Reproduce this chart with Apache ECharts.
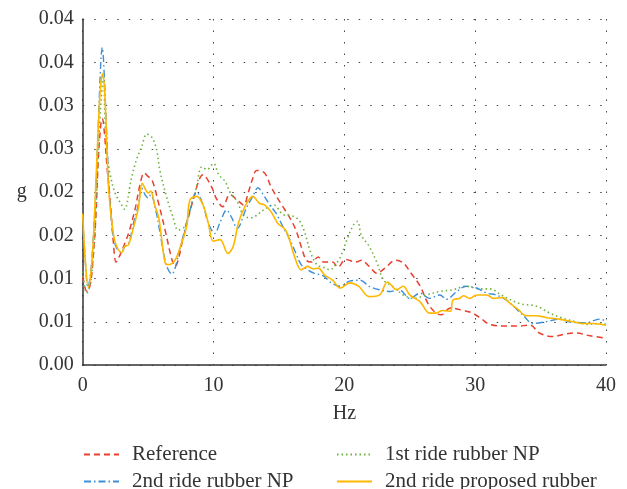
<!DOCTYPE html>
<html>
<head>
<meta charset="utf-8">
<script src="https://cdn.jsdelivr.net/npm/echarts@6/dist/echarts.min.js"></script>
<style>
html,body{margin:0;padding:0;background:#fff;}
#chart{width:627px;height:489px;}
</style>
</head>
<body>
<div id="chart"></div>
<script>
// ---- data ----
const seriesNames = ['Reference', '1st ride rubber NP', '2nd ride rubber NP', '2nd ride proposed rubber'];
const yTickLabels = ['0.00','0.01','0.01','0.02','0.02','0.03','0.03','0.04','0.04'];

const refHz = [0,0.2,0.35,0.6,0.8,1.0,1.2,1.4,1.5,1.65,1.85,2.1,2.35,2.55,2.85,3.2,3.5,4.0,4.4,4.7,5.0,5.3,5.8,6.3,6.8,7.05,7.7,8.45,9.2,9.85,10.2,10.7,11.25,11.8,12.3,12.65,13.0,13.3,13.9,14.4,14.8,15.3,15.8,16.3,16.7,17.1,17.5,18.0,18.4,19.1,19.5,20.1,20.9,21.3,21.9,22.5,23.1,23.9,24.5,25.1,25.8,26.4,27.0,27.4,28.1,29.1,29.8,30.5,31.1,32.1,33.2,34.2,34.9,35.9,37.0,37.7,38.7,40];
const refG  = [0.0102,0.0088,0.0085,0.0095,0.0125,0.017,0.024,0.028,0.0285,0.027,0.023,0.019,0.0141,0.0119,0.0127,0.014,0.0152,0.018,0.021,0.0222,0.0218,0.0214,0.0187,0.0156,0.0123,0.0114,0.0148,0.0191,0.022,0.0206,0.0193,0.0183,0.0197,0.0191,0.0185,0.0199,0.0216,0.0225,0.0222,0.0206,0.0195,0.0183,0.0171,0.0156,0.0137,0.0121,0.0119,0.0125,0.0119,0.0119,0.0113,0.0122,0.0119,0.0121,0.0114,0.0106,0.0112,0.0121,0.0118,0.0106,0.0091,0.0071,0.006,0.0058,0.0066,0.0063,0.006,0.0053,0.0047,0.0045,0.0045,0.0046,0.0037,0.0033,0.0036,0.0037,0.0034,0.0031];

const r1Hz = [0,0.3,0.6,0.9,1.1,1.3,1.5,1.6,1.7,1.83,2.08,2.47,2.98,3.2,3.7,4.1,4.5,4.9,5.3,5.65,5.9,6.4,6.9,7.3,7.8,8.2,8.7,9.1,9.5,10.0,10.4,10.9,11.25,11.8,12.3,12.8,13.2,13.8,14.6,15.3,16.1,16.6,17.0,17.4,17.9,18.4,18.9,19.3,19.7,20.2,20.7,21.0,21.3,21.9,22.5,23.0,23.7,24.5,25.3,26.3,27.3,28.3,29.3,30.4,31.1,32.1,33.4,34.7,35.7,36.7,37.7,38.6,39.5,40];
const r1G  = [0.0108,0.0083,0.0095,0.0145,0.021,0.028,0.0325,0.0335,0.0285,0.0249,0.0222,0.0199,0.0185,0.018,0.0214,0.0237,0.0252,0.0267,0.0263,0.0249,0.0225,0.0195,0.0171,0.0156,0.016,0.0179,0.0206,0.0229,0.0226,0.0233,0.022,0.0212,0.02,0.0189,0.0173,0.017,0.0172,0.0179,0.0185,0.0174,0.0172,0.0166,0.0152,0.0131,0.0116,0.0113,0.011,0.0116,0.0125,0.0145,0.0162,0.0166,0.015,0.0137,0.0118,0.0098,0.0091,0.0081,0.0077,0.0081,0.0085,0.0087,0.0091,0.0088,0.0088,0.008,0.0071,0.0068,0.006,0.0054,0.005,0.0047,0.0048,0.0047];

const r2Hz = [0,0.2,0.4,0.6,0.8,1.0,1.2,1.4,1.5,1.6,1.8,2.0,2.3,2.6,3.0,3.2,3.5,3.9,4.25,4.5,4.8,5.0,5.2,5.6,6.0,6.4,6.8,7.4,8.2,8.7,9.2,9.6,10.1,10.5,11.0,11.4,11.8,12.5,13.0,13.4,13.8,14.3,14.8,15.3,15.8,16.3,16.7,17.2,17.7,18.4,19.0,19.7,20.4,21.2,21.9,22.7,23.5,24.2,25.0,25.8,26.5,27.3,27.8,28.6,29.3,30.1,30.9,31.6,32.4,33.2,33.7,34.4,35.4,36.4,37.5,38.5,39.5,40];
const r2G  = [0.0172,0.012,0.009,0.0105,0.0145,0.02,0.028,0.0355,0.0367,0.035,0.028,0.021,0.0152,0.0135,0.013,0.0137,0.014,0.0165,0.0185,0.0205,0.0196,0.0193,0.0197,0.0178,0.0145,0.0115,0.0105,0.0133,0.0179,0.02,0.0185,0.0164,0.0152,0.0165,0.0179,0.017,0.0158,0.0181,0.0195,0.0205,0.0197,0.0185,0.0175,0.016,0.0146,0.0129,0.0116,0.011,0.0106,0.0103,0.0095,0.0091,0.0097,0.0098,0.0091,0.0087,0.0085,0.0087,0.0077,0.0083,0.0077,0.0081,0.0076,0.0085,0.0091,0.0089,0.0083,0.0081,0.0075,0.0064,0.0057,0.0048,0.005,0.0053,0.0049,0.0049,0.0053,0.0051];

const propHz = [0,0.2,0.43,0.65,0.8,0.95,1.15,1.35,1.53,1.7,1.85,2.0,2.34,2.6,3.0,3.2,3.5,3.9,4.25,4.55,4.8,5.0,5.2,5.5,5.8,6.0,6.3,6.5,7.05,7.56,7.94,8.2,8.7,9.2,9.6,9.98,10.5,11.1,11.5,11.9,12.4,13.0,13.5,13.9,14.4,14.9,15.5,15.8,16.2,16.7,17.2,17.6,18.0,18.5,19.1,19.7,20.4,21.1,21.9,22.7,23.3,24.0,24.5,25.0,25.8,26.5,27.0,27.5,28.1,28.3,28.8,29.1,29.6,30.1,30.9,31.4,32.1,32.6,33.3,33.9,34.7,35.4,36.4,37.5,38.2,39.0,40];
const propG  = [0.0175,0.012,0.009,0.011,0.0141,0.019,0.026,0.032,0.0337,0.031,0.025,0.02,0.0152,0.0137,0.013,0.0137,0.0139,0.016,0.0181,0.021,0.0203,0.0199,0.0201,0.0185,0.0171,0.015,0.0118,0.0116,0.0121,0.0141,0.016,0.0191,0.0195,0.0185,0.0164,0.0143,0.0145,0.0129,0.0137,0.0164,0.0183,0.0195,0.0187,0.0185,0.0177,0.0164,0.0156,0.0145,0.0125,0.011,0.0114,0.0111,0.0112,0.0104,0.0098,0.0089,0.0095,0.0091,0.0079,0.0081,0.0096,0.0087,0.0091,0.0081,0.0073,0.006,0.006,0.0063,0.0062,0.0075,0.0077,0.008,0.0077,0.0081,0.0081,0.0077,0.0078,0.0072,0.0064,0.0057,0.0057,0.0055,0.0053,0.005,0.0048,0.0048,0.0046];

function pairs(xs, ys){ return xs.map((x,i)=>[x, ys[i]]); }

const FONT = 'Liberation Serif';
const TXT = '#333';
const chart = echarts.init(document.getElementById('chart'), null, {renderer:'canvas'});

function lineSeries(name, data, color, type, width){
  return {
    name: name, type: 'line', data: data, smooth: 0.35,
    symbol: 'none', showSymbol: false,
    lineStyle: {color: color, width: width, type: type},
    itemStyle: {color: color},
    emphasis: {disabled: true},
    animation: false
  };
}

function legendAt(name, left, top){
  return {
    data: [name], orient: 'horizontal', left: left, top: top,
    itemWidth: 35, itemHeight: 14, padding: 0,
    itemStyle: {opacity: 0, borderWidth: 0},
    textStyle: {fontFamily: FONT, fontSize: 21, color: TXT, padding: [0, 0, 0, 8]}
  };
}

chart.setOption({
  backgroundColor: '#fff',
  animation: false,
  grid: {left: 82.7, right: 21, top: 19, bottom: 124, containLabel: false},
  xAxis: {
    type: 'value', min: 0, max: 40, interval: 10,
    name: 'Hz', nameLocation: 'middle', nameGap: 39,
    nameTextStyle: {fontFamily: FONT, fontSize: 20, color: TXT},
    axisLine: {show: true, onZero: false, lineStyle: {color: '#333', width: 1.5}},
    axisTick: {show: false},
    axisLabel: {fontFamily: FONT, fontSize: 20, color: TXT, margin: 11},
    splitLine: {show: true, lineStyle: {color: '#444', width: 1, type: [1.5, 10]}}
  },
  yAxis: {
    type: 'value', min: 0, max: 0.04, interval: 0.005,
    name: 'g', nameLocation: 'middle', nameGap: 56, nameRotate: 0,
    nameTextStyle: {fontFamily: FONT, fontSize: 20, color: TXT},
    axisLine: {show: true, lineStyle: {color: '#333', width: 1.5}},
    axisTick: {show: false},
    axisLabel: {fontFamily: FONT, fontSize: 20, color: TXT, margin: 9,
      formatter: function(v){ return yTickLabels[Math.round(v/0.005)]; }},
    splitLine: {show: true, lineStyle: {color: '#444', width: 1, type: [1.5, 10]}}
  },
  legend: [
    legendAt(seriesNames[0], 83, 444),
    legendAt(seriesNames[2], 83, 471),
    legendAt(seriesNames[1], 336, 444),
    legendAt(seriesNames[3], 336, 471)
  ],
  series: [
    lineSeries(seriesNames[0], pairs(refHz, refG), '#e8402e', [6, 4], 1.5),
    lineSeries(seriesNames[1], pairs(r1Hz, r1G), '#6fb23f', [1.5, 3], 1.6),
    lineSeries(seriesNames[2], pairs(r2Hz, r2G), '#3d8fd8', [7, 3, 1.5, 3], 1.4),
    lineSeries(seriesNames[3], pairs(propHz, propG), '#ffb700', 'solid', 1.6)
  ]
});
</script>
</body>
</html>
